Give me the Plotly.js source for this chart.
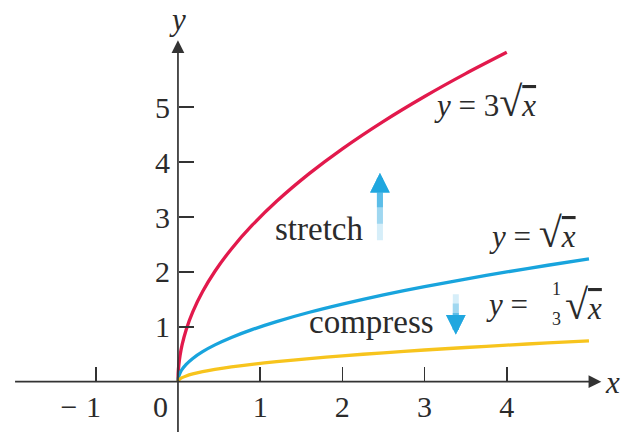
<!DOCTYPE html>
<html>
<head>
<meta charset="utf-8">
<script src="https://cdn.plot.ly/plotly-3.0.1.min.js"></script>
<style>
  html, body { margin: 0; padding: 0; background: #ffffff; }
  #chart { width: 623px; height: 432px; }
</style>
</head>
<body>
<div id="chart"></div>
<script>
// Sample abscissas for the square-root family
const xSamples = [0, 0.003, 0.01, 0.025, 0.05, 0.1, 0.18, 0.3, 0.45, 0.65, 0.9, 1.2, 1.6, 2, 2.5, 3, 3.5, 4, 4.5, 5];
// Vertical scale factors named in the curve labels: y = k·√x
const curveNames = ['y = 3√x', 'y = √x', 'y = (1/3)√x'];
const scaleFactors = [3, 1, 1 / 3];
const curveXMax = [4, 5, 5];
const curveColors = ['#e2194c', '#18a4dd', '#f7c41d'];

// Axis ticks
const xTickVals = [-1, 1, 2, 3, 4];
const xTickText = ['\u2212\u2009\u200a1\u2007\u2007', '1', '2', '3', '4'];
const yTickVals = [1, 2, 3, 4, 5];
const yTickText = ['1', '2', '3', '4', '5'];

const xRange = [-2.165, 5.414];
const yRange = [-0.916, 6.953];

const serif = 'Liberation Serif, Times New Roman, serif';
const ink = '#2b2b2b';

const traces = scaleFactors.map((k, i) => {
  const xs = xSamples.filter(v => v <= curveXMax[i]);
  return {
    type: 'scatter',
    mode: 'lines',
    name: curveNames[i],
    x: xs,
    y: xs.map(v => k * Math.sqrt(v)),
    line: { color: curveColors[i], width: 3.3, shape: 'spline', smoothing: 0.6 },
    hoverinfo: 'skip'
  };
});

// Axes cross at the origin
const xAxisPos = (0 - yRange[0]) / (yRange[1] - yRange[0]);
const yAxisPos = (0 - xRange[0]) / (xRange[1] - xRange[0]);

const tickFont = { family: serif, size: 30, color: ink };
const textFont = { family: serif, size: 31, color: ink };
const wordFont = { family: serif, size: 33, color: ink };

function arrow(x0, y0, x1, y1, color, width, head, size) {
  return {
    x: x1, y: y1, ax: x0, ay: y0,
    xref: 'x', yref: 'y', axref: 'x', ayref: 'y',
    text: '', showarrow: true,
    arrowhead: head, arrowsize: size, arrowwidth: width, arrowcolor: color
  };
}
function label(text, x, y, xanchor, yanchor, font, extra) {
  return Object.assign({
    x: x, y: y, xref: 'x', yref: 'y', text: text, showarrow: false,
    xanchor: xanchor, yanchor: yanchor, font: font
  }, extra || {});
}

// radical sign with its bar over x
const sqrtX = '<span style="font-size:42px">√</span><span style="text-decoration:overline"><i>x</i></span>';

const annotations = [
  // coordinate axes with arrowheads
  arrow(0, -1.2, 0, 6.22, '#333333', 1.7, 2, 1.5),
  arrow(-2.0, 0, 5.15, 0, '#333333', 1.7, 2, 1.5),
  label('<i>y</i>', 0, 6.6, 'center', 'middle', textFont),
  label('<i>x</i>', 5.17, -0.02, 'left', 'middle', textFont),
  label('0', 0, 0, 'right', 'top', tickFont, { xshift: -8, yshift: -6 }),

  // curve labels
  label('<i>y</i> = 3' + sqrtX, 3.09, 5.1, 'left', 'middle', textFont),
  label('<i>y</i> = ' + sqrtX, 3.76, 2.7, 'left', 'middle', textFont),
  label('<i>y</i> = ', 3.72, 1.4, 'left', 'middle', textFont),
  label('1', 4.6, 1.68, 'center', 'middle', { family: serif, size: 18, color: ink }),
  label('3', 4.6, 1.15, 'center', 'middle', { family: serif, size: 18, color: ink }),
  label(sqrtX, 4.68, 1.4, 'left', 'middle', textFont),

  label('stretch', 1.72, 2.78, 'center', 'middle', wordFont),
  label('compress', 2.36, 1.08, 'center', 'middle', wordFont),

  // stretch arrow: fades out toward its tail
  arrow(2.457, 2.55, 2.457, 3.80, '#d6eef9', 6, 2, 0.65),
  arrow(2.457, 2.85, 2.457, 3.80, '#9fd7f0', 6, 2, 0.65),
  arrow(2.457, 3.15, 2.457, 3.80, '#5bbde8', 6, 2, 0.65),
  arrow(2.457, 3.45, 2.457, 3.80, '#20a7df', 6, 2, 0.65),

  // compress arrow: fades out toward its tail
  arrow(3.38, 1.62, 3.38, 0.86, '#d6eef9', 6, 2, 0.65),
  arrow(3.38, 1.45, 3.38, 0.86, '#9fd7f0', 6, 2, 0.65),
  arrow(3.38, 1.28, 3.38, 0.86, '#5bbde8', 6, 2, 0.65),
  arrow(3.38, 1.10, 3.38, 0.86, '#20a7df', 6, 2, 0.65)
];

const layout = {
  width: 623,
  height: 432,
  margin: { l: 0, r: 0, t: 0, b: 0, pad: 0 },
  paper_bgcolor: '#ffffff',
  plot_bgcolor: '#ffffff',
  showlegend: false,
  xaxis: {
    range: xRange,
    anchor: 'free',
    position: xAxisPos,
    showgrid: false,
    zeroline: false,
    showline: false,
    tickmode: 'array',
    tickvals: xTickVals,
    ticktext: xTickText,
    ticks: 'inside',
    ticklen: 15,
    tickwidth: 1.6,
    tickcolor: '#333333',
    tickfont: tickFont,
    ticklabelstandoff: 4,
    fixedrange: true
  },
  yaxis: {
    range: yRange,
    anchor: 'free',
    position: yAxisPos,
    showgrid: false,
    zeroline: false,
    showline: false,
    tickmode: 'array',
    tickvals: yTickVals,
    ticktext: yTickText,
    ticks: 'inside',
    ticklen: 15,
    tickwidth: 1.6,
    tickcolor: '#333333',
    tickfont: tickFont,
    ticklabelstandoff: 8,
    fixedrange: true
  },
  annotations: annotations
};

Plotly.newPlot('chart', traces, layout, { staticPlot: true, displayModeBar: false });
</script>
</body>
</html>
